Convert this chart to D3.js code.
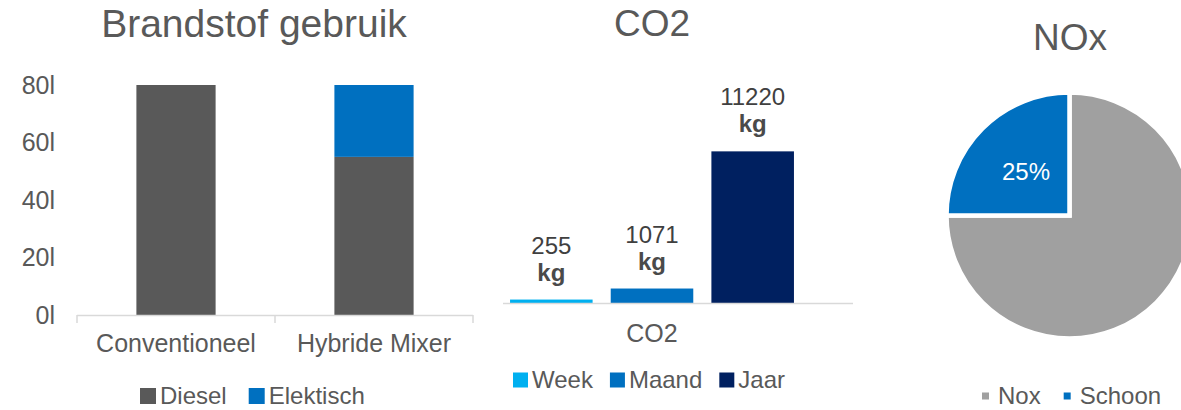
<!DOCTYPE html>
<html>
<head>
<meta charset="utf-8">
<script src="https://cdn.jsdelivr.net/npm/d3@7"></script>
<style>
  body { margin: 0; background: #fff; }
  svg { display: block; font-family: "Liberation Sans", Arial, sans-serif; }
</style>
</head>
<body>
<div id="chart"></div>
<script>
// brandstof chart
const fuelCategories = ["Conventioneel", "Hybride Mixer"];
const fuelSeries = ["Diesel", "Elektisch"];
const dieselValues = [80, 55];
const elektischValues = [0, 25];
const fuelTicks = [0, 20, 40, 60, 80];

// co2 chart
const co2Category = ["CO2"];
const co2Periods = ["Week", "Maand", "Jaar"];
const co2Values = [255, 1071, 11220];

// nox pie
const noxLabels = ["Nox", "Schoon"];
const noxValues = [75, 25];

const textColor = "#595959";
const fuelColors = ["#595959", "#0070c0"];
const co2Colors = ["#00b0f0", "#0070c0", "#002060"];
const noxColors = ["#a0a0a0", "#0070c0"];

const width = 1181, height = 410;

let svg = d3.select("#chart")
  .append("svg")
  .attr("width", width)
  .attr("height", height);

function title(txt, x, y, size) {
  svg.append("text")
    .attr("x", x).attr("y", y)
    .attr("text-anchor", "middle")
    .attr("font-size", size)
    .attr("fill", textColor)
    .text(txt);
}

function legend(items, colors, x0, y, size, gap, spacing) {
  let x = x0;
  items.forEach((name, i) => {
    svg.append("rect")
      .attr("x", x).attr("y", y - size / 2)
      .attr("width", size).attr("height", size)
      .attr("fill", colors[i]);
    let t = svg.append("text")
      .attr("x", x + size + gap).attr("y", y)
      .attr("dy", "0.35em")
      .attr("font-size", 24)
      .attr("fill", textColor)
      .text(name);
    x += size + gap + t.node().getComputedTextLength() + spacing;
  });
}

// ---------- Brandstof gebruik ----------
title("Brandstof gebruik", 254, 37, 39);

let xFuel = d3.scaleBand()
  .domain(fuelCategories)
  .range([77, 473])
  .paddingInner(0.6)
  .paddingOuter(0.3);

let yFuel = d3.scaleLinear()
  .domain([0, 80])
  .range([315, 85]);

let stackData = fuelCategories.map((c, i) => ({ cat: c, Diesel: dieselValues[i], Elektisch: elektischValues[i] }));
let stacked = d3.stack().keys(fuelSeries)(stackData);

svg.append("g")
  .selectAll("g")
  .data(stacked)
  .enter().append("g")
  .attr("fill", (d, i) => fuelColors[i])
  .selectAll("rect")
  .data(d => d)
  .enter().append("rect")
  .attr("x", d => xFuel(d.data.cat))
  .attr("y", d => yFuel(d[1]))
  .attr("width", xFuel.bandwidth())
  .attr("height", d => yFuel(d[0]) - yFuel(d[1]));

let yAxis = svg.append("g")
  .attr("transform", "translate(55,0)")
  .call(d3.axisLeft(yFuel).tickValues(fuelTicks).tickFormat(d => d + "l").tickSize(0).tickPadding(0));
yAxis.select(".domain").remove();
yAxis.selectAll("text")
  .attr("font-size", 25)
  .attr("font-family", "Liberation Sans, Arial, sans-serif")
  .attr("fill", textColor);

// category axis with ticks on the band boundaries
let fr = xFuel.range();
svg.append("line")
  .attr("x1", fr[0]).attr("x2", fr[1])
  .attr("y1", yFuel(0) + 0.5).attr("y2", yFuel(0) + 0.5)
  .attr("stroke", "#d9d9d9").attr("stroke-width", 1.5);
d3.range(fuelCategories.length + 1).forEach(i => {
  let bx = fr[0] + i * (fr[1] - fr[0]) / fuelCategories.length;
  svg.append("line")
    .attr("x1", bx).attr("x2", bx)
    .attr("y1", yFuel(0)).attr("y2", yFuel(0) + 8)
    .attr("stroke", "#d9d9d9").attr("stroke-width", 1.5);
});
svg.append("g")
  .selectAll("text")
  .data(fuelCategories)
  .enter().append("text")
  .attr("x", d => xFuel(d) + xFuel.bandwidth() / 2)
  .attr("y", 352)
  .attr("text-anchor", "middle")
  .attr("font-size", 25)
  .attr("fill", textColor)
  .text(d => d);

legend(fuelSeries, fuelColors, 140, 396, 16, 4, 22);

// ---------- CO2 ----------
title("CO2", 652, 36, 37);

let x0 = d3.scaleBand()
  .domain(co2Category)
  .range([503, 801]);

let x1 = d3.scaleBand()
  .domain(co2Periods)
  .range([0, x0.bandwidth()])
  .paddingInner(0.18)
  .paddingOuter(0.07);

let yCo2 = d3.scaleLinear()
  .domain([0, 16500])
  .range([303, 80]);

let co2g = svg.append("g").attr("transform", `translate(${x0("CO2")},0)`);

co2g.selectAll("rect")
  .data(co2Periods)
  .enter().append("rect")
  .attr("x", d => x1(d))
  .attr("y", (d, i) => yCo2(co2Values[i]))
  .attr("width", x1.bandwidth())
  .attr("height", (d, i) => yCo2(0) - yCo2(co2Values[i]))
  .attr("fill", (d, i) => co2Colors[i]);

let labels = co2g.selectAll("text.lbl")
  .data(co2Periods)
  .enter().append("text")
  .attr("class", "lbl")
  .attr("text-anchor", "middle")
  .attr("font-size", 24)
  .attr("fill", "#404040");
labels.append("tspan")
  .attr("x", d => x1(d) + x1.bandwidth() / 2)
  .attr("y", (d, i) => yCo2(co2Values[i]) - 46)
  .text((d, i) => co2Values[i]);
labels.append("tspan")
  .attr("x", d => x1(d) + x1.bandwidth() / 2)
  .attr("y", (d, i) => yCo2(co2Values[i]) - 19)
  .attr("font-weight", "bold")
  .attr("fill", "#4a4a4a")
  .text("kg");

svg.append("line")
  .attr("x1", 503).attr("x2", 853)
  .attr("y1", yCo2(0) + 0.5).attr("y2", yCo2(0) + 0.5)
  .attr("stroke", "#d9d9d9").attr("stroke-width", 1.5);

svg.append("text")
  .attr("x", x0("CO2") + x0.bandwidth() / 2)
  .attr("y", 342)
  .attr("text-anchor", "middle")
  .attr("font-size", 25)
  .attr("fill", textColor)
  .text(co2Category[0]);

legend(co2Periods, co2Colors, 513, 380, 15, 4, 17);

// ---------- NOx ----------
title("NOx", 1070, 50, 37);

let r = 123;
let pie = d3.pie().sort(null)(noxValues);
let arc = d3.arc().innerRadius(0).outerRadius(r);

let pg = svg.append("g").attr("transform", "translate(1069.5,215.5)");
pg.selectAll("path")
  .data(pie)
  .enter().append("path")
  .attr("d", arc)
  .attr("fill", (d, i) => noxColors[i])
  .attr("stroke", "#fff")
  .attr("stroke-width", 4.5)
  .attr("stroke-linejoin", "miter");

pg.append("text")
  .attr("transform", `translate(${arc.centroid(pie[1])})`)
  .attr("text-anchor", "middle")
  .attr("dy", "0.35em")
  .attr("font-size", 24)
  .attr("fill", "#fff")
  .text(Math.round(noxValues[1] / d3.sum(noxValues) * 100) + "%");

legend(noxLabels, noxColors, 982, 396, 7, 9, 23);
</script>
</body>
</html>
